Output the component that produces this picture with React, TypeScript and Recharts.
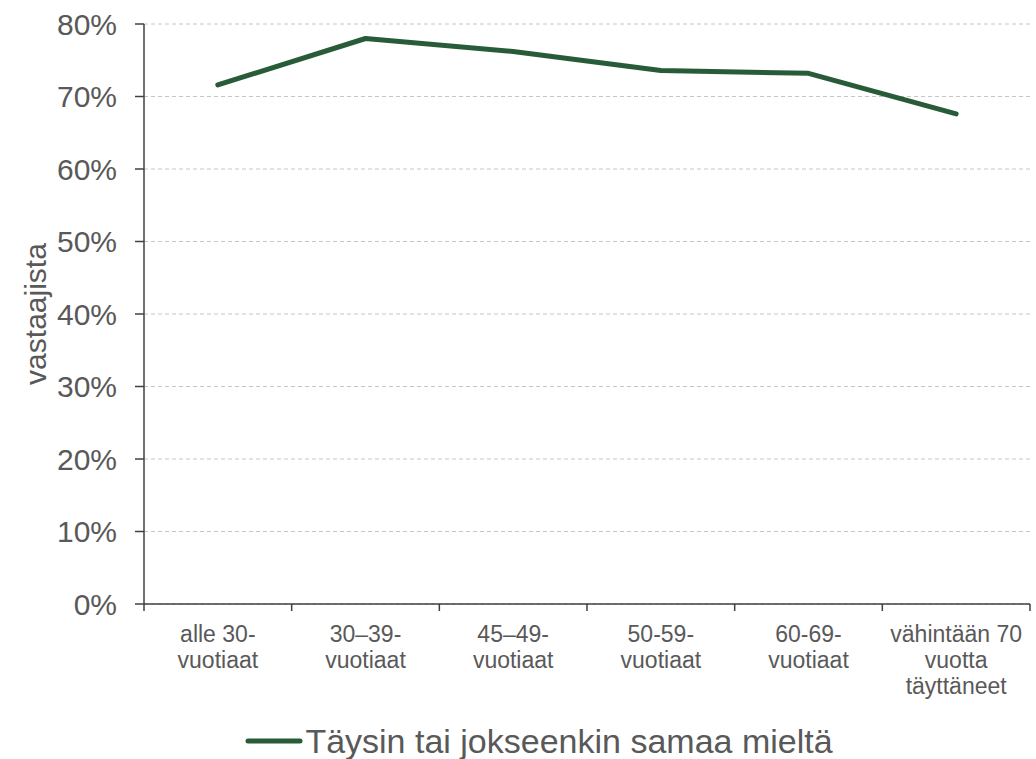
import { LineChart, Line, XAxis, YAxis, CartesianGrid, Legend } from 'recharts'

// age groups and share of respondents who agree (%)
const groups = [
  'alle 30-\nvuotiaat',
  '30–39-\nvuotiaat',
  '45–49-\nvuotiaat',
  '50-59-\nvuotiaat',
  '60-69-\nvuotiaat',
  'vähintään 70\nvuotta\ntäyttäneet',
]
const agree = [71.6, 78.0, 76.2, 73.6, 73.2, 67.6]
const yTicks = [0, 10, 20, 30, 40, 50, 60, 70, 80]
const bandEdges = [0, 1, 2, 3, 4, 5, 6]
const seriesName = 'Täysin tai jokseenkin samaa mieltä'

// slot = middle of each category band on the 0..6 edge axis
const data = groups.map((group, i) => ({ group, slot: i + 0.5, share: agree[i] }))

const FONT = '"Liberation Sans", Arial, sans-serif'
const TEXT = '#595959'
const AXIS = '#404040'
const GREEN = '#285c38'

function GroupTick({ x, y, payload }: any) {
  const lines = String(payload.value).split('\n')
  return (
    <text x={x} y={y} textAnchor="middle" fill={TEXT} fontSize={23} fontFamily={FONT}>
      {lines.map((l, i) => (
        <tspan key={i} x={x} dy={i === 0 ? 30 : 26}>{l}</tspan>
      ))}
    </text>
  )
}

function YLabel({ viewBox }: any) {
  const cx = viewBox.x + 35
  const cy = viewBox.y + viewBox.height / 2
  return (
    <text
      x={cx}
      y={cy}
      transform={`rotate(-90 ${cx} ${cy})`}
      textAnchor="middle"
      dominantBaseline="central"
      fill={TEXT}
      fontSize={30}
      fontFamily={FONT}
    >
      vastaajista
    </text>
  )
}

function LegendRow() {
  return (
    <div style={{ height: 36, display: 'flex', alignItems: 'center', justifyContent: 'center', paddingLeft: 48, fontFamily: FONT }}>
      <svg width={58} height={10}>
        <line x1={3} y1={5} x2={55} y2={5} stroke={GREEN} strokeWidth={5} strokeLinecap="round" />
      </svg>
      <span style={{ fontSize: 34, color: TEXT, marginLeft: 2 }}>{seriesName}</span>
    </div>
  )
}

export default function App() {
  return (
    <div style={{ position: 'absolute', left: 0, top: 0, width: 1036, height: 759, background: '#fff' }}>
      <LineChart width={1036} height={759} data={data} margin={{ top: 24, right: 6, bottom: 0, left: 0 }}>
        <CartesianGrid vertical={false} xAxisId="a" strokeDasharray="4 3" stroke="#c6c6c6" />
        <XAxis
          xAxisId="b"
          dataKey="group"
          scale="band"
          height={111}
          interval={0}
          axisLine={false}
          tickLine={false}
          tickSize={0}
          tickMargin={0}
          tick={<GroupTick />}
        />
        <XAxis
          xAxisId="a"
          dataKey="slot"
          type="number"
          scale="linear"
          domain={[0, 6]}
          ticks={bandEdges}
          interval={0}
          allowDataOverflow
          height={8}
          tickSize={7}
          tickFormatter={() => ''}
          axisLine={{ stroke: AXIS, strokeWidth: 1.5 }}
          tickLine={{ stroke: AXIS, strokeWidth: 1.5 }}
        />
        <YAxis
          width={144}
          domain={[0, 80]}
          ticks={yTicks}
          tickFormatter={(v: number) => `${v}%`}
          tickSize={9}
          tickMargin={18}
          tick={{ fill: TEXT, fontSize: 30, fontFamily: FONT }}
          axisLine={{ stroke: AXIS, strokeWidth: 1.5 }}
          tickLine={{ stroke: AXIS, strokeWidth: 1.5 }}
          label={<YLabel />}
        />
        <Legend verticalAlign="bottom" height={36} content={<LegendRow />} />
        <Line
          xAxisId="b"
          type="linear"
          dataKey="share"
          name={seriesName}
          stroke={GREEN}
          strokeWidth={5}
          strokeLinecap="round"
          strokeLinejoin="round"
          dot={false}
          isAnimationActive={false}
        />
      </LineChart>
    </div>
  )
}
